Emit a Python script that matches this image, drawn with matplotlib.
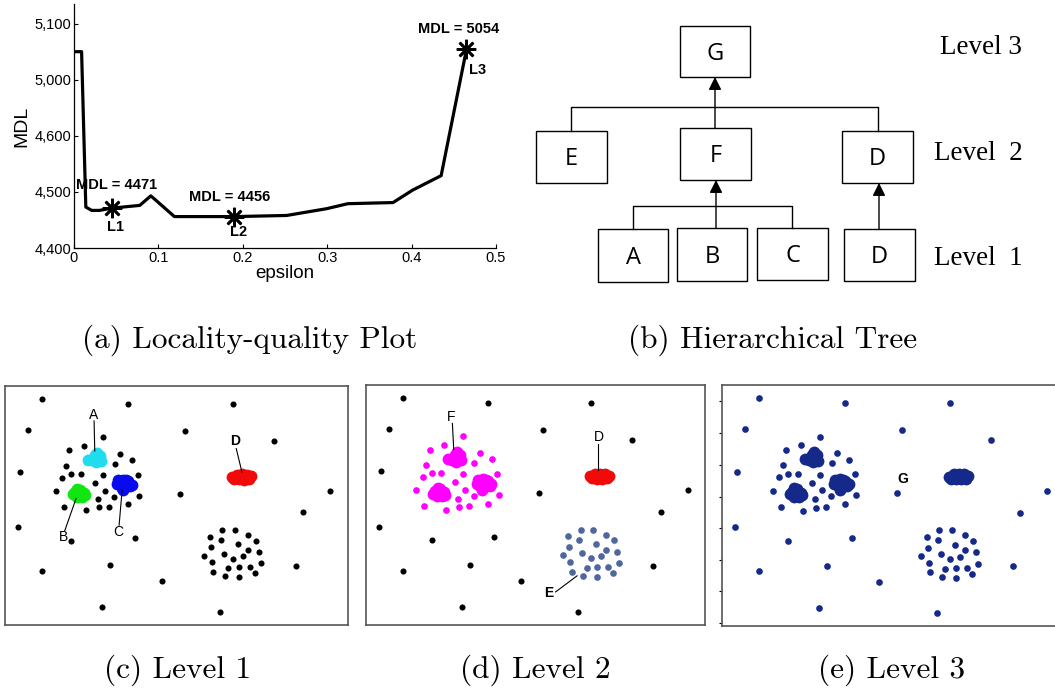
import numpy as np
import matplotlib
matplotlib.use("Agg")
import matplotlib.pyplot as plt
from matplotlib.patches import Rectangle

W, H = 1055, 694

# ---- (a) locality-quality curve (MDL values as labelled on the axis) ----
eps = [0, 0.009, 0.014, 0.021, 0.030, 0.0445, 0.078, 0.091, 0.119, 0.19,
       0.252, 0.299, 0.3245, 0.378, 0.401, 0.435, 0.465]
mdl = [5050, 5050, 4473, 4467, 4467, 4471, 4476, 4493, 4456, 4456,
       4458, 4470, 4479, 4481, 4503, 4529, 5054]
mark_eps = [0.0445, 0.19, 0.465]
mark_mdl = [4471, 4456, 5054]
mark_names = ["L1", "L2", "L3"]
ytick_vals = [4400, 4500, 4600, 5000, 5100]
ytick_labels = ["4,400", "4,500", "4,600", "5,000", "5,100"]
xtick_vals = [0, 0.1, 0.2, 0.3, 0.4, 0.5]

# ---- (b) tree: name, x0, y0, x1, y1 (pixels) ----
boxes = [("G", 680, 26, 750, 77), ("E", 536, 131, 607, 183),
         ("F", 680, 128, 751, 180), ("D", 842, 131, 913, 183),
         ("A", 598, 229, 668, 282), ("B", 677, 228, 747, 281),
         ("C", 757, 228, 828, 280), ("D", 844, 229, 915, 281)]
levels = ["Level 3", "Level  2", "Level  1"]

# ---- (c-e) scatter points ----
noise = [(126, 57), (384, 72), (697, 72), (84, 148), (553, 151), (821, 182),
         (61, 275), (540, 340), (990, 332), (909, 397), (55, 441), (214, 482),
         (404, 473), (126, 572), (329, 555), (485, 603), (886, 557),
         (306, 682), (658, 696)]
ring_f = [(309, 171), (208, 210), (253, 197), (361, 221), (397, 239),
          (344, 250), (198, 256), (214, 281), (243, 281), (187, 292),
          (309, 284), (413, 283), (286, 308), (168, 332), (316, 331),
          (417, 346), (341, 349), (293, 357), (191, 380), (257, 391),
          (298, 382), (328, 380), (384, 372)]
ring_e = [(666, 450), (703, 450), (628, 470), (661, 480), (742, 465),
          (766, 482), (632, 502), (713, 493), (743, 510), (776, 516),
          (612, 527), (671, 521), (697, 536), (727, 529), (635, 547),
          (783, 550), (684, 564), (716, 561), (749, 561), (639, 575),
          (674, 589), (716, 592), (763, 580)]
blob_a = [(290, 228), (298, 236), (282, 237), (292, 218), (300, 226),
          (264, 238), (275, 240), (288, 246), (302, 242), (285, 225)]
blob_b = [(225, 335), (240, 328), (252, 338), (245, 350), (230, 350),
          (218, 342), (238, 342), (255, 345), (232, 325)]
blob_c = [(355, 300), (370, 298), (385, 303), (395, 313), (380, 318),
          (365, 322), (360, 310), (368, 330), (352, 312), (378, 300),
          (390, 318)]
blob_d = [(695, 290), (710, 283), (725, 282), (740, 283), (752, 288),
          (745, 296), (730, 298), (715, 297), (700, 296), (724, 290)]


def brk(v):
    # axis is broken between 4,600 and 5,000
    v = np.asarray(v, dtype=float)
    return np.where(v > 4800, v - 300, v)


def px_axes(x0, y0, x1, y1):
    return fig.add_axes([x0 / W, 1 - y1 / H, (x1 - x0) / W, (y1 - y0) / H])


fig = plt.figure(figsize=(W / 100, H / 100), dpi=100)
sans = "Liberation Sans"
cm = "cmr10"

# overlay in pixel coordinates for the tree and captions
ov = fig.add_axes([0, 0, 1, 1])
ov.set_xlim(0, W)
ov.set_ylim(H, 0)
ov.axis("off")

# ---------- panel (a) ----------
ax = px_axes(74, 4, 496, 248)
ax.plot(eps, brk(mdl), color="black", lw=2.3)
ax.plot(mark_eps, brk(mark_mdl), linestyle="none", marker=(8, 2, 0),
        markersize=14, markeredgewidth=1.9, color="black")
ax.set_xlim(0, 0.5)
ax.set_ylim(4400, 4835)
ax.set_xticks(xtick_vals)
ax.set_xticklabels(["0", "0.1", "0.2", "0.3", "0.4", "0.5"])
ax.set_yticks(brk(ytick_vals))
ax.set_yticklabels(ytick_labels)
ax.tick_params(direction="in", length=3, labelsize=10.5, pad=2)
for s in ["top", "right"]:
    ax.spines[s].set_visible(False)
for s in ["left", "bottom"]:
    ax.spines[s].set_linewidth(0.9)
for lab in ax.get_xticklabels() + ax.get_yticklabels():
    lab.set_family(sans)
ax.set_xlabel("epsilon", family=sans, fontsize=13.5, labelpad=0)
ax.set_ylabel("MDL", family=sans, fontsize=14, labelpad=3)

ann_pos = [(0.0509, 4512), (0.1846, 4491), (0.4556, 5091)]
name_pos = [(0.0497, 4437), (0.195, 4429), (0.478, 5018)]
for v, (tx, ty), nm, (nx, ny) in zip(mark_mdl, ann_pos, mark_names, name_pos):
    ax.text(tx, brk(ty), "MDL = %d" % v, ha="center", va="center",
            family=sans, fontsize=10.5, fontweight="bold")
    ax.text(nx, brk(ny), nm, ha="center", va="center",
            family=sans, fontsize=10.5, fontweight="bold")

# ---------- panel (b) ----------
for name, x0, y0, x1, y1 in boxes:
    ov.add_patch(Rectangle((x0, y0), x1 - x0, y1 - y0, fill=False,
                           edgecolor="black", lw=1.0))
    ov.text((x0 + x1) / 2, (y0 + y1) / 2 + 2, name, ha="center",
            va="center", family="Open Sans", fontsize=17)

line_kw = dict(color="black", lw=1.0)
# level 2 bracket
ov.plot([571, 571, 878, 878], [131, 107, 107, 131], **line_kw)
# level 1 bracket
ov.plot([633, 633, 792, 792], [229, 206, 206, 228], **line_kw)
arrow_kw = dict(arrowstyle="-|>,head_length=0.7,head_width=0.35",
                color="black", lw=1.0, shrinkA=0, shrinkB=0,
                mutation_scale=11)
for xa, ya, yb in [(715, 128, 77), (716, 228, 180), (879, 229, 183)]:
    ov.annotate("", xy=(xa, yb), xytext=(xa, ya), arrowprops=arrow_kw)

for txt, (lx, ly) in zip(levels, [(940, 47), (934, 153), (934, 258)]):
    ov.text(lx, ly, txt, ha="left", va="center", family="Liberation Serif",
            fontsize=19.5)

# ---------- captions ----------
captions = ["(a) Locality-quality Plot", "(b) Hierarchical Tree",
            "(c) Level 1", "(d) Level 2", "(e) Level 3"]
cap_pos = [(250, 340), (773, 340), (178, 670), (535, 670), (892, 670)]
for txt, (cx, cy) in zip(captions, cap_pos):
    ov.text(cx, cy, txt, ha="center", va="center", family=cm, fontsize=22.5)


# ---------- panels (c), (d), (e) ----------
def scatter_panel(rect, layers, labels):
    a = px_axes(*rect)
    a.set_xlim(15, 1043)
    a.set_ylim(735, 17)
    a.set_xticks([])
    a.set_yticks([])
    for s in a.spines.values():
        s.set_color("#555555")
        s.set_linewidth(1.2)
    for pts, col, ms in layers:
        xs, ys = zip(*pts)
        a.plot(xs, ys, "o", color=col, markersize=ms, markeredgewidth=0)
    for txt, (tx, ty), bold, seg in labels:
        a.text(tx, ty, txt, ha="center", va="center", family=sans,
               fontsize=10, fontweight="bold" if bold else "normal")
        if seg is not None:
            a.plot(seg[0], seg[1], color="black", lw=0.8)
    return a


blob_ms = 8.5
dot = 4.4
scatter_panel((5, 386, 348, 625),
              [(noise, "black", dot), (ring_f, "black", dot),
               (ring_e, "black", dot),
               (blob_a, "#1fdcee", blob_ms), (blob_b, "#11e611", blob_ms),
               (blob_c, "#0a0af0", blob_ms), (blob_d, "#f20a0a", blob_ms)],
              [("A", (281, 105), False, ([282, 284], [122, 212])),
               ("B", (189, 472), False, ([194, 228], [452, 355])),
               ("C", (354, 455), False, ([357, 366], [435, 330])),
               ("D", (704, 182), True, ([708, 725], [205, 275]))])

scatter_panel((366, 385, 705, 625),
              [(noise, "black", dot), (ring_f, "#ff00ff", 4.8),
               (ring_e, "#4f679d", 4.8),
               (blob_a, "#ff00ff", blob_ms), (blob_b, "#ff00ff", blob_ms),
               (blob_c, "#ff00ff", blob_ms), (blob_d, "#f20a0a", blob_ms)],
              [("F", (274, 113), False, ([277, 281], [132, 210])),
               ("D", (720, 172), False, ([720, 720], [195, 270])),
               ("E", (570, 640), True, ([590, 655], [636, 588]))])

navy = "#15298a"
ae = scatter_panel((722, 385, 1065, 626),
                   [(noise, navy, 4.8), (ring_f, navy, 4.8),
                    (ring_e, navy, 4.8), (blob_a, navy, blob_ms),
                    (blob_b, navy, blob_ms), (blob_c, navy, blob_ms),
                    (blob_d, navy, blob_ms)],
                   [("G", (556, 297), True, None)])
ae.set_yticks([64, 160, 255, 351, 444, 539, 632, 727])
ae.set_yticklabels([])
ae.tick_params(axis="y", direction="out", length=2, width=0.8)

fig.savefig("out.png", dpi=100)
